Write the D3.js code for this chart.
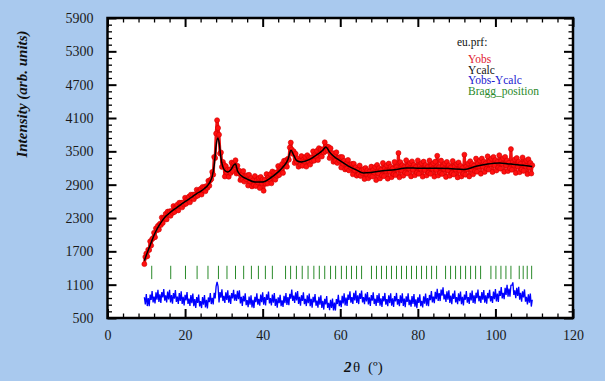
<!DOCTYPE html>
<html><head><meta charset="utf-8">
<script src="https://cdn.jsdelivr.net/npm/d3@7"></script>
<style>html,body{margin:0;padding:0;background:#a9c9ee;} svg{display:block}</style>
</head><body><svg id="c" width="605" height="381"></svg>
<script>
// ---- DATA ----
const twoThetaStart = 9.5, twoThetaStep = 0.25;
const yObs = [
1470,1600,1660,1610,1730,1725,1880,1805,1920,1940,2035,1955,
2115,2080,2160,2092,2195,2172,2310,2212,2305,2302,2375,2275,
2415,2360,2420,2339,2427,2391,2515,2407,2490,2477,2540,2437,
2575,2517,2575,2492,2580,2542,2665,2556,2637,2624,2685,2582,
2720,2662,2720,2637,2725,2687,2810,2700,2780,2765,2825,2722,
2860,2802,2860,2782,2875,2842,2970,2880,2980,3000,3130,3080,
3400,3380,3820,4060,3920,3800,3460,3480,3220,3310,3260,3047,
3234,3117,3175,3043,3170,3108,3298,3146,3280,3250,3340,3100,
3240,3107,3150,2982,3075,2992,3145,2955,3050,3000,3070,2884,
3077,2961,3020,2869,2977,2896,3055,2875,2980,2940,3020,2840,
3040,2930,2995,2790,2982,2916,3090,2919,3032,3001,3090,2924,
3137,3041,3120,2989,3117,3056,3235,3073,3197,3175,3273,3112,
3330,3247,3340,3222,3365,3347,3570,3657,3535,3455,3500,3289,
3457,3316,3372,3223,3334,3255,3415,3240,3350,3315,3400,3225,
3430,3325,3395,3261,3387,3324,3500,3331,3447,3419,3510,3343,
3557,3460,3538,3407,3535,3479,3663,3500,3590,3520,3580,3378,
3556,3425,3468,3311,3415,3328,3482,3290,3383,3332,3400,3209,
3397,3276,3330,3174,3277,3191,3345,3156,3252,3204,3275,3086,
3277,3159,3215,3062,3170,3087,3245,3057,3155,3107,3180,3001,
3202,3094,3160,3016,3132,3059,3225,3047,3165,3117,3220,2982,
3255,3107,3200,3012,3165,3067,3290,3052,3193,3145,3247,3008,
3280,3132,3223,3035,3187,3088,3310,3072,3215,3167,3470,3032,
3305,3157,3250,3062,3215,3117,3340,3100,3240,3189,3289,3049,
3319,3168,3258,3068,3217,3117,3337,3096,3236,3186,3286,3045,
3315,3165,3255,3065,3215,3115,3335,3095,3235,3185,3285,3045,
3315,3165,3420,3064,3214,3113,3333,3092,3232,3181,3281,3040,
3310,3160,3250,3059,3208,3107,3326,3085,3224,3173,3272,3031,
3300,3150,3239,3048,3197,3096,3440,3080,3224,3179,3283,3048,
3322,3177,3272,3086,3241,3145,3370,3133,3277,3230,3333,3097,
3370,3223,3317,3130,3283,3187,3410,3172,3313,3265,3367,3128,
3400,3252,3343,3155,3307,3208,3430,3188,3327,3275,3373,3132,
3400,3248,3337,3145,3293,3192,3540,3168,3307,3255,3353,3112,
3380,3228,3317,3125,3273,3172,3390,3148,3286,3234,3332,3090,
3358,3206,3293,3101,3249];
const yDiff = [
874,744,929,715,858,714,920,827,986,781,884,763,
964,829,1009,790,928,773,968,869,1022,811,908,781,
976,835,1009,782,913,756,950,849,1001,788,884,755,
949,806,979,752,883,725,918,816,967,753,848,718,
911,767,939,711,840,683,875,773,923,710,804,679,
876,738,914,691,825,673,870,784,949,751,861,746,
954,854,1069,1150,1068,779,968,867,1018,805,900,771,
964,824,999,775,908,754,950,852,1006,811,924,806,
989,837,999,763,883,717,900,797,946,731,824,693,
884,739,909,690,828,679,880,787,946,741,844,721,
920,783,961,741,877,726,925,824,975,762,857,727,
920,777,949,718,845,684,873,769,916,713,817,698,
901,767,949,734,876,731,936,847,1010,809,904,772,
961,815,984,754,880,720,910,809,961,748,844,715,
909,766,939,713,843,687,881,780,932,720,815,687,
881,739,909,681,810,652,845,743,893,680,774,640,
829,682,849,635,778,634,840,752,916,712,816,696,
898,764,945,727,866,718,920,825,982,775,876,753,
952,815,993,772,908,751,944,843,994,781,876,747,
940,797,969,743,874,718,912,812,964,751,847,719,
913,771,944,720,853,699,895,797,951,741,839,713,
909,769,944,720,853,699,895,797,951,741,839,713,
909,769,944,719,850,695,890,791,943,732,829,702,
896,755,929,703,834,678,872,773,925,713,809,689,
891,758,939,721,860,713,915,823,983,780,884,767,
971,840,1024,809,950,805,1010,904,1051,833,924,790,
979,831,999,773,904,748,942,842,994,782,878,749,
943,801,974,748,879,726,923,828,984,777,878,755,
953,816,994,772,908,756,955,857,1011,801,899,773,
968,828,1002,777,910,756,951,853,1007,797,894,773,
974,839,1019,800,938,789,990,897,1056,851,954,838,
1044,914,1099,885,1028,884,1090,1092,1141,916,999,858,
1044,896,1062,830,955,792,980,871,1014,793,880,743,
928,777,941,706,828];
const calcTwoTheta = [9.5,10,11,12,13,14,15,16,17,18,19,20,21,22,23,24,25,26,26.5,27,27.5,28,28.4,28.8,29.2,29.7,30.3,31,31.8,32.5,33,33.5,34.5,36,38,40,42,44,45.5,46.5,47.3,48,48.8,50,52,54,55.5,56.3,57.2,58.5,60,62,64,66,68,71,74,77,80,85,88,92,95,98,101,104,107,109.5];
const yCalc = [1530,1630,1810,1990,2130,2240,2330,2390,2445,2495,2545,2595,2640,2690,2740,2780,2830,2900,2960,3050,3250,3600,3740,3650,3400,3230,3150,3130,3170,3250,3270,3150,3060,3000,2950,2950,3020,3130,3240,3350,3520,3430,3330,3310,3350,3440,3520,3580,3490,3400,3330,3240,3170,3110,3120,3150,3170,3200,3197,3195,3190,3175,3230,3270,3290,3270,3250,3229];
const braggPositions = [11.4,16.3,20.1,23.1,25.9,28.6,30.8,33.0,35.1,37.1,38.9,40.7,42.5,45.9,47.2,48.7,50.2,51.7,53.2,54.6,56.0,57.5,58.8,60.3,61.6,62.9,64.2,65.5,68.05,69.34,70.63,71.92,73.21,74.5,75.79,77.08,78.37,79.66,80.95,82.25,83.54,84.83,87.15,88.44,89.73,91.02,92.31,93.6,94.89,96.18,98.84,100.13,101.42,102.71,104.0,106.14,107.16,108.2,109.34];
const braggLow = 1200, braggHigh = 1440;
const xTicks = [0,20,40,60,80,100,120];
const yTicks = [500,1100,1700,2300,2900,3500,4100,4700,5300,5900];
const legendTitle = "eu.prf:";
const legendLabels = ["Yobs","Ycalc","Yobs-Ycalc","Bragg_position"];
const legendColors = ["#e0202e","#111111","#2020d0","#2a8a2a"];

// ---- CHART ----
const svg = d3.select("#c");
svg.append("rect").attr("width",605).attr("height",381).attr("fill","#a9c9ee");
const L=107.5,R=573,T=18,B=318;
const x = d3.scaleLinear().domain([0,120]).range([L,R]);
const y = d3.scaleLinear().domain([500,5900]).range([B,T]);
svg.append("rect").attr("x",L).attr("y",T).attr("width",R-L).attr("height",B-T).attr("fill","#fff");

const twoTheta = yObs.map((_,i)=>twoThetaStart+i*twoThetaStep);

// observed: dense trace + markers
svg.append("path").datum(yObs)
  .attr("d",d3.line().x((d,i)=>x(twoTheta[i])).y(d=>y(d)))
  .attr("fill","none").attr("stroke","#f01010").attr("stroke-width",3).attr("stroke-linejoin","round");
svg.append("g").selectAll("circle").data(yObs).join("circle")
  .attr("cx",(d,i)=>x(twoTheta[i])).attr("cy",d=>y(d)).attr("r",2.5)
  .attr("fill","#ff1010").attr("stroke","#d00000").attr("stroke-width",0.6);
// calc
svg.append("path").datum(yCalc)
  .attr("d",d3.line().x((d,i)=>x(calcTwoTheta[i])).y(d=>y(d)).curve(d3.curveMonotoneX))
  .attr("fill","none").attr("stroke","#000").attr("stroke-width",1.5);
// bragg
svg.append("g").selectAll("line").data(braggPositions).join("line")
  .attr("x1",d=>x(d)).attr("x2",d=>x(d)).attr("y1",y(braggLow)).attr("y2",y(braggHigh))
  .attr("stroke","#2a8a2a").attr("stroke-width",1);
// diff
svg.append("path").datum(yDiff)
  .attr("d",d3.line().x((d,i)=>x(twoTheta[i])).y(d=>y(d)))
  .attr("fill","none").attr("stroke","#0000ff").attr("stroke-width",1.3);

// axes
const xMinor = d3.range(0,121,4).filter(v=>v%20!==0);
const yMinor = d3.range(500,5901,120).filter(v=>(v-500)%600!==0);
function ax(gen, scale, tr, vals, size, fmt, pad, sw){
  const g = svg.append("g").attr("transform",tr)
    .call(gen(scale).tickValues(vals).tickSize(-size).tickPadding(pad).tickFormat(fmt));
  g.select(".domain").remove();
  g.selectAll(".tick line").attr("stroke","#000").attr("stroke-width",sw);
  g.selectAll("text").attr("font-family","Liberation Serif, Times New Roman, serif")
    .attr("font-size",14).attr("fill","#1a1a1a");
  return g;
}
ax(d3.axisBottom,x,`translate(0,${B})`,xTicks,9,d3.format("d"),12,2);
ax(d3.axisBottom,x,`translate(0,${B})`,xMinor,4.5,()=>"",0,1.3);
ax(d3.axisTop,x,`translate(0,${T})`,xTicks,9,()=>"",0,2);
ax(d3.axisTop,x,`translate(0,${T})`,xMinor,4.5,()=>"",0,1.3);
const yl = ax(d3.axisLeft,y,`translate(${L},0)`,yTicks,9,d3.format("d"),14,2);
yl.selectAll("text").attr("x",-14).attr("text-anchor","end");
ax(d3.axisLeft,y,`translate(${L},0)`,yMinor,4.5,()=>"",0,1.3);
ax(d3.axisRight,y,`translate(${R},0)`,yTicks,9,()=>"",0,2);
ax(d3.axisRight,y,`translate(${R},0)`,yMinor,4.5,()=>"",0,1.3);

svg.append("rect").attr("x",L).attr("y",T).attr("width",R-L).attr("height",B-T)
  .attr("fill","none").attr("stroke","#000").attr("stroke-width",2.5);

// titles
svg.append("text").attr("transform","translate(27,94) rotate(-90)")
  .attr("text-anchor","middle").attr("font-family","Liberation Serif, serif")
  .attr("font-size",15).attr("font-weight","bold").attr("font-style","italic")
  .attr("fill","#111").text("Intensity (arb. units)");
const xt = svg.append("text").attr("y",372).attr("font-family","Liberation Serif, serif")
  .attr("font-size",15).attr("fill","#111");
xt.append("tspan").attr("x",344).attr("font-weight","bold").attr("font-style","italic").text("2");
xt.append("tspan").attr("x",353).text("θ");
xt.append("tspan").attr("x",368).text("(º)");

// legend
svg.append("text").attr("x",457).attr("y",46).attr("font-family","Liberation Serif, serif")
  .attr("font-size",11.5).attr("fill","#111").text(legendTitle);
svg.append("g").selectAll("text").data(legendLabels).join("text")
  .attr("x",468).attr("y",(d,i)=>63+i*10.5)
  .attr("font-family","Liberation Serif, serif").attr("font-size",11.5)
  .attr("fill",(d,i)=>legendColors[i]).text(d=>d);
</script></body></html>
